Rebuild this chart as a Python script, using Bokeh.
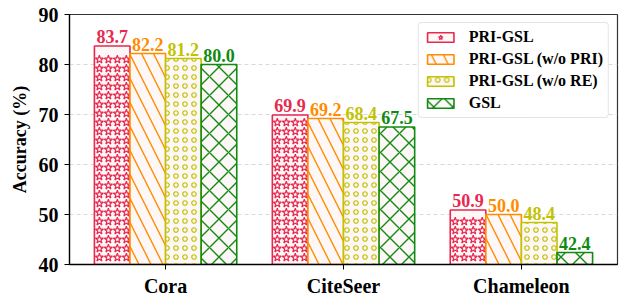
from bokeh.plotting import figure
from bokeh.models import ColumnDataSource, FixedTicker, Legend, LegendItem
from bokeh.core.properties import value
from bokeh.embed import file_html
from bokeh.resources import INLINE

datasets = ["Cora", "CiteSeer", "Chameleon"]
methods = ["PRI-GSL", "PRI-GSL (w/o PRI)", "PRI-GSL (w/o RE)", "GSL"]
acc_pri_gsl = [83.7, 69.9, 50.9]
acc_wo_pri = [82.2, 69.2, 50.0]
acc_wo_re = [81.2, 68.4, 48.4]
acc_gsl = [80.0, 67.5, 42.4]
y_ticks = [40, 50, 60, 70, 80, 90]

series = [acc_pri_gsl, acc_wo_pri, acc_wo_re, acc_gsl]
colors = ["#e8294f", "#ff8c00", "#c2c200", "#108a10"]
hatches = [None, "left_diagonal_line", "ring", "diagonal_cross"]
scales = [9, 24, 9, 19]
weights = [1.2, 1.4, 1.2, 1.4]

SERIF = "Liberation Serif"
p = figure(frame_width=548, frame_height=250, x_range=(-0.54, 2.54), y_range=(40, 90),
           output_backend="svg", toolbar_location=None,
           min_border_left=69, min_border_right=5, min_border_top=14, min_border_bottom=31)

width = 0.2
items = []
for i, (vals, c, h, sc, wt, name) in enumerate(zip(series, colors, hatches, scales, weights, methods)):
    xs = [k - 0.3 + i * width for k in range(len(datasets))]
    src = ColumnDataSource(dict(x=xs, top=vals, lab=[f"{v:.1f}" for v in vals]))
    kw = {}
    if h is not None:
        kw = dict(hatch_pattern=h, hatch_color=c, hatch_scale=sc, hatch_weight=wt)
    r = p.vbar(x="x", top="top", bottom=40, width=width, source=src,
               fill_color="#fdf7f7", line_color=c, line_width=1.6, **kw)
    rends = [r]
    if h is None:
        # star texture drawn as markers inside each bar
        sx, sy = [], []
        for x0, top in zip(xs, vals):
            left = x0 - width / 2
            y = 41.4
            while y <= top - 1.0:
                for k in range(4):
                    sx.append(left + 0.028 + k * 0.0505)
                    sy.append(y)
                y += 1.8
        p.scatter(sx, sy, marker="star", size=8.5, fill_color=None, line_color=c, line_width=1.2)
        lx = p.scatter([-10], [0], marker="star", size=8.5, fill_color=None, line_color=c, line_width=1.2)
        rends = [r, lx]
    p.text(x="x", y="top", text="lab", source=src, text_align="center", text_baseline="bottom",
           y_offset=-3, text_color=c, text_font=value(SERIF), text_font_style="bold",
           text_font_size="18px")
    items.append(LegendItem(label=name, renderers=rends))

legend = Legend(items=items, location="top_right")
legend.label_text_font = SERIF
legend.label_text_font_style = "bold"
legend.label_text_font_size = "16px"
legend.label_text_color = "black"
legend.glyph_width = 33
legend.glyph_height = 12
legend.spacing = 4
legend.padding = 5
legend.margin = 8
legend.label_standoff = 12
legend.label_height = 17
legend.border_line_color = "#cccccc"
legend.border_line_width = 1
legend.border_radius = 4
legend.background_fill_alpha = 0.9
p.add_layout(legend)

p.xaxis.ticker = FixedTicker(ticks=[0, 1, 2])
p.xaxis.major_label_overrides = {0: "Cora", 1: "CiteSeer", 2: "Chameleon"}
p.yaxis.ticker = FixedTicker(ticks=y_ticks)
for ax in (p.xaxis, p.yaxis):
    ax.major_label_text_font = SERIF
    ax.major_label_text_font_style = "bold"
    ax.major_label_text_font_size = "20px"
    ax.major_label_text_color = "black"
    ax.axis_line_color = "black"
    ax.axis_line_width = 1.3
    ax.major_tick_line_color = "black"
    ax.major_tick_in = 0
    ax.major_tick_out = 5
    ax.minor_tick_line_color = None
p.yaxis.axis_label = "Accuracy (%)"
p.yaxis.axis_label_text_font = SERIF
p.yaxis.axis_label_text_font_style = "bold"
p.yaxis.axis_label_text_font_size = "18px"
p.yaxis.axis_label_text_color = "black"
p.yaxis.axis_label_standoff = 6
p.xaxis.major_label_standoff = 5
p.yaxis.major_label_standoff = 6

p.xgrid.grid_line_color = None
p.ygrid.grid_line_color = "#d9d9d9"
p.ygrid.grid_line_dash = "4 3"
p.outline_line_color = "#333333"
p.outline_line_width = 1.2
p.outline_line_alpha = 1

open("out.html", "w").write(file_html(p, INLINE))
